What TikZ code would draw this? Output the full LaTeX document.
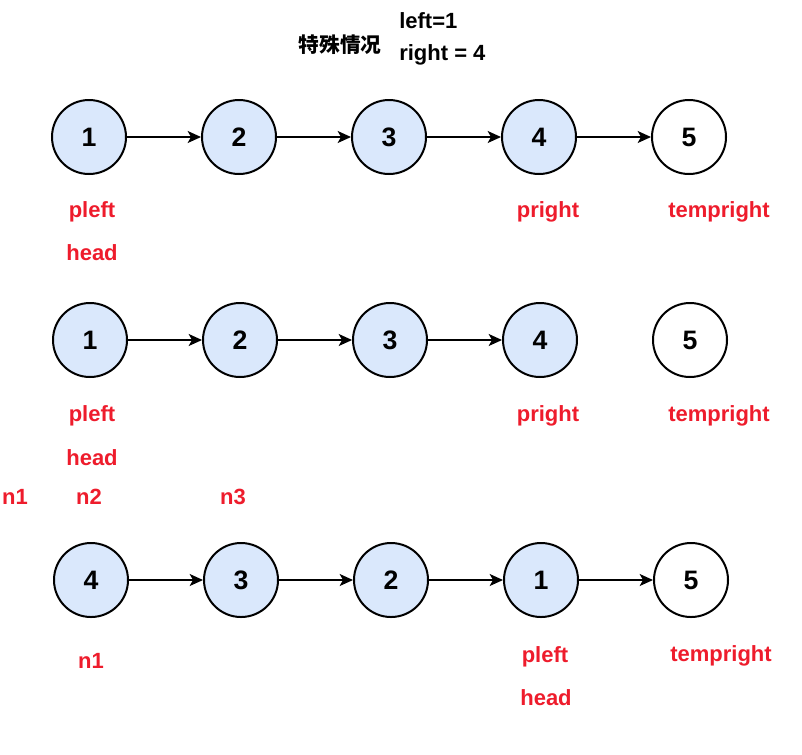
\documentclass[tikz,border=0pt]{standalone}
\usepackage{fontspec}
\setmainfont{Liberation Sans}
\newfontfamily\cjk{Noto Sans CJK SC}
\usetikzlibrary{arrows.meta}
\definecolor{nodeblue}{HTML}{DAE8FC}
\definecolor{lblred}{HTML}{EE1C2C}
\tikzset{
  listnode/.style={circle,draw=black,line width=1.5pt,fill=nodeblue,minimum size=55.5pt,inner sep=0pt,font=\fontsize{20}{20}\selectfont\bfseries},
  plainnode/.style={listnode,fill=white},
  link/.style={-{Stealth[length=10pt,width=9pt,inset=2.5pt]},line width=1.2pt},
  redlbl/.style={text=lblred,font=\fontsize{16.5}{16.5}\selectfont\bfseries,inner sep=0pt},
  blklbl/.style={text=black,font=\fontsize{16.5}{16.5}\selectfont\bfseries,inner sep=0pt}
}
\begin{document}
\begin{tikzpicture}[x=0.75pt,y=-0.75pt]
\useasboundingbox (0,0) rectangle (802,754);
% title
\node[blklbl,font=\cjk\fontsize{15.5}{15.5}\selectfont\bfseries] (title) at (340,45) {特殊情况};
\node[blklbl,anchor=west] (lft) at (399,21) {left=1};
\node[blklbl,anchor=west] (rgt) at (399,55) {right = 4};
% row 1
\node[listnode] (a1) at (89,137) {1};
\node[listnode] (a2) at (239,137) {2};
\node[listnode] (a3) at (389,137) {3};
\node[listnode] (a4) at (539,137) {4};
\node[plainnode] (a5) at (689,137) {5};
\draw[link] (a1) -- (a2);
\draw[link] (a2) -- (a3);
\draw[link] (a3) -- (a4);
\draw[link] (a4) -- (a5);
\node[redlbl] (a1p) at (92,212) {pleft};
\node[redlbl] (a1h) at (92,253) {head};
\node[redlbl] (a4p) at (548,212) {pright};
\node[redlbl] (a5t) at (719,212) {tempright};
% row 2
\node[listnode] (b1) at (90,340) {1};
\node[listnode] (b2) at (240,340) {2};
\node[listnode] (b3) at (390,340) {3};
\node[listnode] (b4) at (540,340) {4};
\node[plainnode] (b5) at (690,340) {5};
\draw[link] (b1) -- (b2);
\draw[link] (b2) -- (b3);
\draw[link] (b3) -- (b4);
\node[redlbl] (b1p) at (92,416) {pleft};
\node[redlbl] (b1h) at (92,458) {head};
\node[redlbl] (b4p) at (548,416) {pright};
\node[redlbl] (b5t) at (719,416) {tempright};
\node[redlbl] (n1a) at (15,497) {n1};
\node[redlbl] (n2a) at (89,497) {n2};
\node[redlbl] (n3a) at (233,497) {n3};
% row 3
\node[listnode] (c1) at (91,580) {4};
\node[listnode] (c2) at (241,580) {3};
\node[listnode] (c3) at (391,580) {2};
\node[listnode] (c4) at (541,580) {1};
\node[plainnode] (c5) at (691,580) {5};
\draw[link] (c1) -- (c2);
\draw[link] (c2) -- (c3);
\draw[link] (c3) -- (c4);
\draw[link] (c4) -- (c5);
\node[redlbl] (c1n) at (91,661) {n1};
\node[redlbl] (c4p) at (545,657) {pleft};
\node[redlbl] (c4h) at (546,698) {head};
\node[redlbl] (c5t) at (721,656) {tempright};
\end{tikzpicture}
\end{document}
